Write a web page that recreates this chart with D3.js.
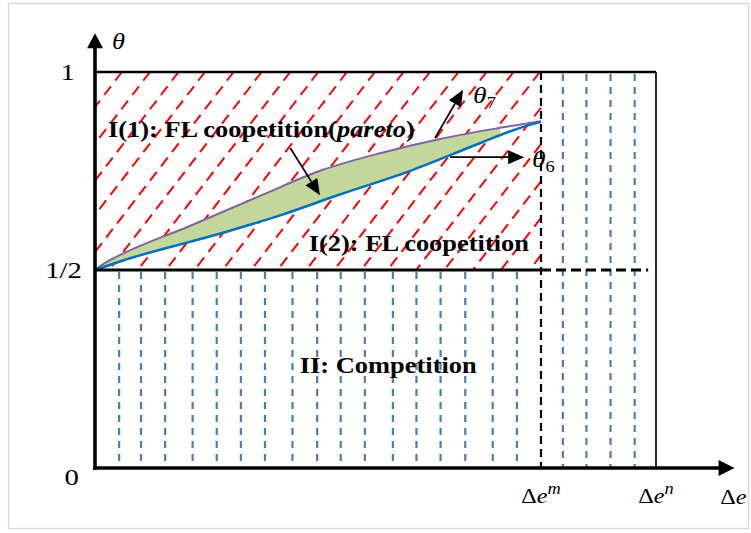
<!DOCTYPE html>
<html>
<head>
<meta charset="utf-8">
<script src="https://cdn.jsdelivr.net/npm/d3@7"></script>
<style>
  html, body { margin: 0; padding: 0; background: #fff; }
  svg { display: block; }
</style>
</head>
<body>
<svg id="chart" width="751" height="533"></svg>
<script>
// CHART DATA
const xTickValues = [79.5, 100];          // Δe^m, Δe^n
const xTickSups = ["m", "n"];
const yTickValues = [1, 0.5, 0];
const yTickLabels = ["1", "1/2", "0"];

// theta_7 (upper, pareto bound) and theta_6 (lower bound)
const theta7X = [0, 1.8, 4.5, 16.9, 29.4, 40.6, 50.8, 61.5, 72.2, 79.5];
const theta7Y = [0.5, 0.518, 0.538, 0.611, 0.687, 0.753, 0.795, 0.831, 0.859, 0.876];
const theta6X = [0, 5.0, 22.8, 33.0, 43.1, 56.7, 68.6, 75.8, 79.5];
const theta6Y = [0.5, 0.524, 0.594, 0.638, 0.688, 0.753, 0.820, 0.859, 0.874];

// hatch positions (x where each hatch line meets its reference edge)
const redHatchTops = [4.8, 9.8, 14.9, 19.6, 24.7, 29.7, 34.8, 39.8, 44.9, 49.9, 55.0,
  59.7, 64.8, 69.8, 74.6, 79.3, 84.4, 89.4, 94.5, 99.5, 104.6];
const blueHatchLow = [4.3, 8.2, 12.5, 17.4, 21.7, 26.0, 30.3, 35.2, 39.6, 43.8, 48.1,
  53.1, 57.3, 61.6, 66.0, 70.9, 75.2];
const blueHatchHigh = [83.4, 87.6, 91.9, 96.2];

// region labels
const regionLabels = ["I(1): FL coopetition(", "I(2): FL coopetition", "II: Competition"];
const regionX = [2.3, 38.1, 36.5];
const regionY = [0.836, 0.548, 0.24];

// annotation arrows
const arrowNames = ["pareto", "theta7", "theta6"];
const arrowFrom = [[34.8, 0.808], [60.6, 0.833], [63.3, 0.785]];
const arrowTo = [[40.1, 0.689], [65.6, 0.955], [76.5, 0.785]];
const curveNames = ["7", "6"];
const curveLabelX = [67.4, 77.9];
const curveLabelY = [0.922, 0.760];

// CREATE X AND Y SCALES
const xScale = d3.scaleLinear().domain([0, 100]).range([95, 656]);
const yScale = d3.scaleLinear().domain([0, 1]).range([468, 72]);
const X_AXIS_END = 114;
const Y_AXIS_END = 1.098;
const STRETCH = 1.15;

const svg = d3.select("#chart");

// FRAME
svg.append("rect")
  .attr("x", 8.5).attr("y", 3.5)
  .attr("width", 740).attr("height", 525)
  .attr("fill", "none").attr("stroke", "#d9d9d9").attr("stroke-width", 1.5);

const addText = (g, x, y, size, opts = {}) => {
  return g.append("text")
    .attr("transform", `translate(${x},${y}) scale(${opts.sx || STRETCH},1)`)
    .attr("font-family", "'Liberation Serif', 'Times New Roman', serif")
    .attr("font-size", size)
    .attr("font-weight", opts.bold ? "bold" : "normal")
    .attr("font-style", opts.italic ? "italic" : "normal")
    .attr("text-anchor", opts.anchor || "start")
    .attr("fill", "#000");
};

// HATCHING
const x0 = xScale(0), xm = xScale(xTickValues[0]);
const yTop = yScale(1), yHalf = yScale(0.5), yBot = yScale(0);
const SLOPE = 1.3;
const run = (yHalf - yTop) / SLOPE;

const drawRedHatch = () => {
  const g = svg.append("g").attr("class", "red-hatch");
  redHatchTops.forEach(v => {
    let xa = xScale(v), ya = yTop;
    let xb = xa - run, yb = yHalf;
    if (xa > xm) { ya = yTop + (xa - xm) * SLOPE; xa = xm; }
    if (xb < x0) { yb = yTop + (xScale(v) - x0) * SLOPE; xb = x0; }
    if (ya >= yb) return;
    g.append("line")
      .attr("x1", xa).attr("y1", ya).attr("x2", xb).attr("y2", yb)
      .attr("stroke", "#ff0000").attr("stroke-width", 2)
      .attr("stroke-dasharray", "11,7");
  });
};

const drawBlueHatch = () => {
  const g = svg.append("g").attr("class", "blue-hatch");
  blueHatchLow.forEach(v => {
    g.append("line")
      .attr("x1", xScale(v)).attr("x2", xScale(v))
      .attr("y1", yHalf + 2).attr("y2", yBot)
      .attr("stroke", "#4a7ebb").attr("stroke-width", 2.2)
      .attr("stroke-dasharray", "7,6");
  });
  blueHatchHigh.forEach(v => {
    g.append("line")
      .attr("x1", xScale(v)).attr("x2", xScale(v))
      .attr("y1", yTop + 2).attr("y2", yBot)
      .attr("stroke", "#4a7ebb").attr("stroke-width", 2.2)
      .attr("stroke-dasharray", "7,6");
  });
};

// CURVES
const drawCurves = () => {
  const upper = theta7X.map((x, i) => [x, theta7Y[i]]);
  const lower = theta6X.map((x, i) => [x, theta6Y[i]]);
  const line = d3.line()
    .x(d => xScale(d[0])).y(d => yScale(d[1]))
    .curve(d3.curveMonotoneX);

  // green region between the two bounds
  const lowerInterp = d3.scaleLinear().domain(theta6X).range(theta6Y);
  const area = d3.area()
    .x(d => xScale(d[0]))
    .y0(d => yScale(lowerInterp(d[0])))
    .y1(d => yScale(d[1]))
    .curve(d3.curveMonotoneX);
  svg.append("path").attr("d", area(upper.filter(d => d[0] <= 75)))
    .attr("fill", "#c4d79b");
  svg.append("path").attr("d", line(upper))
    .attr("fill", "none").attr("stroke", "#8064a2").attr("stroke-width", 2);
  svg.append("path").attr("d", line(lower))
    .attr("fill", "none").attr("stroke", "#0070c0").attr("stroke-width", 2.5);
};

// FRAME LINES
const drawFrame = () => {
  svg.append("line")
    .attr("x1", x0).attr("x2", xScale(100)).attr("y1", yTop).attr("y2", yTop)
    .attr("stroke", "#000").attr("stroke-width", 2.3);
  svg.append("line")
    .attr("x1", xScale(100)).attr("x2", xScale(100)).attr("y1", yTop).attr("y2", yBot)
    .attr("stroke", "#000").attr("stroke-width", 1.7);
  svg.append("line")
    .attr("x1", x0).attr("x2", xm).attr("y1", yHalf).attr("y2", yHalf)
    .attr("stroke", "#000").attr("stroke-width", 3.2);
  svg.append("line")
    .attr("x1", xm).attr("x2", xScale(98.6)).attr("y1", yHalf).attr("y2", yHalf)
    .attr("stroke", "#000").attr("stroke-width", 3.2)
    .attr("stroke-dasharray", "10,5");
  svg.append("line")
    .attr("x1", xm).attr("x2", xm).attr("y1", yTop).attr("y2", yBot)
    .attr("stroke", "#000").attr("stroke-width", 2.2)
    .attr("stroke-dasharray", "8,5");
};

// AXES WITH ARROWS
const drawAxes = () => {
  const g = svg.append("g").attr("class", "axes");
  const xEnd = xScale(X_AXIS_END), yEnd = yScale(Y_AXIS_END);
  g.append("line")
    .attr("x1", x0 - 2).attr("x2", xEnd - 12).attr("y1", yBot).attr("y2", yBot)
    .attr("stroke", "#000").attr("stroke-width", 3.6);
  g.append("path")
    .attr("d", `M${xEnd},${yBot} L${xEnd - 16},${yBot - 8} L${xEnd - 16},${yBot + 8} Z`)
    .attr("fill", "#000");
  g.append("line")
    .attr("x1", x0).attr("x2", x0).attr("y1", yBot + 2).attr("y2", yEnd + 12)
    .attr("stroke", "#000").attr("stroke-width", 3.6);
  g.append("path")
    .attr("d", `M${x0},${yEnd} L${x0 - 8},${yEnd + 15} L${x0 + 8},${yEnd + 15} Z`)
    .attr("fill", "#000");

  // y tick labels
  const yOff = [[-20, 8], [-13, 8], [-16, 17]];
  yTickValues.forEach((v, i) => {
    addText(g, x0 + yOff[i][0], yScale(v) + yOff[i][1], 24, { anchor: "end", sx: 1.2 })
      .text(yTickLabels[i]);
  });

  // x tick labels
  xTickValues.forEach((v, i) => {
    const t = addText(g, xScale(v), yBot + 35, 21, { anchor: "middle" });
    t.append("tspan").text("Δ");
    t.append("tspan").attr("font-style", "italic").text("e");
    t.append("tspan").attr("font-style", "italic").attr("font-size", 16)
      .attr("dy", -9).text(xTickSups[i]);
  });

  // axis titles
  const xt = addText(g, xScale(X_AXIS_END) + 12, yBot + 36, 21, { anchor: "end" });
  xt.append("tspan").text("Δ");
  xt.append("tspan").attr("font-style", "italic").text("e");
  addText(g, x0 + 17, yEnd + 16, 23, { italic: true }).text("θ");
};

// ANNOTATIONS
const drawAnnotations = () => {
  const g = svg.append("g").attr("class", "annotations");
  arrowNames.forEach((name, i) => {
    const xa = xScale(arrowFrom[i][0]), ya = yScale(arrowFrom[i][1]);
    const xb = xScale(arrowTo[i][0]), yb = yScale(arrowTo[i][1]);
    const ang = Math.atan2(yb - ya, xb - xa);
    const len = 16, half = 7;
    const bx = xb - len * Math.cos(ang), by = yb - len * Math.sin(ang);
    g.append("line")
      .attr("x1", xa).attr("y1", ya).attr("x2", bx).attr("y2", by)
      .attr("stroke", "#000").attr("stroke-width", 1.8);
    const px = -Math.sin(ang) * half, py = Math.cos(ang) * half;
    g.append("path")
      .attr("d", `M${xb},${yb} L${bx + px},${by + py} L${bx - px},${by - py} Z`)
      .attr("fill", "#000");
  });

  curveNames.forEach((n, i) => {
    const t = addText(g, xScale(curveLabelX[i]), yScale(curveLabelY[i]), 24, { italic: true });
    t.append("tspan").text("θ");
    t.append("tspan").attr("font-style", "normal").attr("font-size", 16)
      .attr("dy", 5).text(n);
  });

  regionLabels.forEach((label, i) => {
    const t = addText(g, xScale(regionX[i]), yScale(regionY[i]), 23, { bold: true });
    t.append("tspan").text(label);
    if (i === 0) {
      t.append("tspan").attr("font-style", "italic").text("pareto");
      t.append("tspan").text(")");
    }
  });
};

// INVOKE FUNCTIONS
drawRedHatch();
drawBlueHatch();
drawCurves();
drawFrame();
drawAxes();
drawAnnotations();
</script>
</body>
</html>
